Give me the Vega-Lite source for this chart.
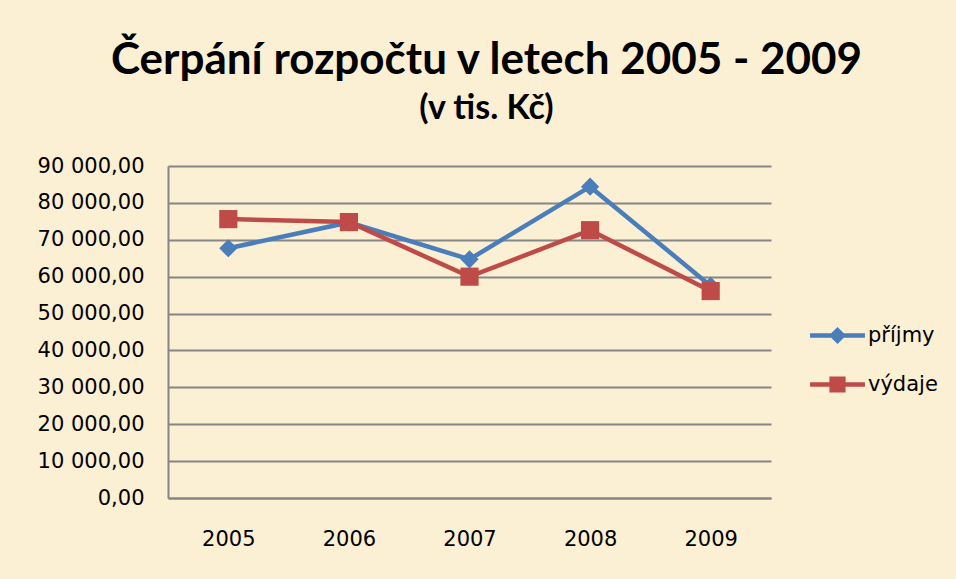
{
  "$schema": "https://vega.github.io/schema/vega-lite/v6.json",
  "width": 603,
  "height": 332,
  "autosize": "none",
  "padding": {"left": 168, "top": 166, "right": 185, "bottom": 81},
  "background": "#FBEFD4",
  "title": {
    "text": "Čerpání rozpočtu v letech 2005 - 2009",
    "subtitle": "(v tis. Kč)",
    "anchor": "middle",
    "frame": "group",
    "dx": 17,
    "offset": 29,
    "font": "Lato",
    "fontSize": 44,
    "fontWeight": "bold",
    "color": "#000000",
    "subtitleFont": "Lato",
    "subtitleFontSize": 34,
    "subtitleFontWeight": "bold",
    "subtitleColor": "#000000",
    "subtitlePadding": 9
  },
  "data": {
    "values": [
      {"rok": "2005", "serie": "příjmy", "hodnota": 67700},
      {"rok": "2006", "serie": "příjmy", "hodnota": 74700},
      {"rok": "2007", "serie": "příjmy", "hodnota": 64700},
      {"rok": "2008", "serie": "příjmy", "hodnota": 84400},
      {"rok": "2009", "serie": "příjmy", "hodnota": 57500},
      {"rok": "2005", "serie": "výdaje", "hodnota": 75600},
      {"rok": "2006", "serie": "výdaje", "hodnota": 74800},
      {"rok": "2007", "serie": "výdaje", "hodnota": 60000},
      {"rok": "2008", "serie": "výdaje", "hodnota": 72600},
      {"rok": "2009", "serie": "výdaje", "hodnota": 56100}
    ]
  },
  "encoding": {
    "x": {
      "field": "rok",
      "type": "ordinal",
      "scale": {"type": "point", "padding": 0.5},
      "axis": {
        "title": null,
        "labelAngle": 0,
        "ticks": false,
        "labelPadding": 30,
        "labelFont": "DejaVu Sans",
        "labelFontSize": 21,
        "labelColor": "#000000",
        "domainColor": "#868686",
        "domainWidth": 2,
        "grid": false
      }
    },
    "y": {
      "field": "hodnota",
      "type": "quantitative",
      "scale": {"domain": [0, 90000], "nice": false, "zero": true},
      "axis": {
        "title": null,
        "values": [0, 10000, 20000, 30000, 40000, 50000, 60000, 70000, 80000, 90000],
        "format": ",.2f",
        "ticks": false,
        "labelPadding": 24,
        "labelFont": "DejaVu Sans",
        "labelFontSize": 21,
        "labelColor": "#000000",
        "domainColor": "#868686",
        "domainWidth": 2,
        "grid": true,
        "gridColor": "#868686",
        "gridWidth": 1.8
      }
    }
  },
  "layer": [
    {
      "mark": {"type": "line", "strokeWidth": 4.5},
      "encoding": {
        "color": {
          "field": "serie",
          "type": "nominal",
          "scale": {"domain": ["příjmy", "výdaje"], "range": ["#4A7EBB", "#BE4B48"]},
          "legend": null
        }
      }
    },
    {
      "mark": {"type": "point", "filled": true, "opacity": 1, "strokeWidth": 0},
      "encoding": {
        "color": {
          "field": "serie",
          "type": "nominal",
          "scale": {"domain": ["příjmy", "výdaje"], "range": ["#4A7EBB", "#BE4B48"]},
          "legend": null
        },
        "shape": {
          "field": "serie",
          "type": "nominal",
          "scale": {"domain": ["příjmy", "výdaje"], "range": ["diamond", "square"]},
          "legend": null
        },
        "size": {"value": 330}
      }
    },
    {
      "transform": [{"filter": "false"}],
      "mark": {"type": "point", "filled": true, "opacity": 1, "strokeWidth": 0},
      "encoding": {
        "color": {
          "field": "serie",
          "type": "nominal",
          "scale": {"domain": ["příjmy", "výdaje"], "range": ["#4A7EBB", "#BE4B48"]},
          "legend": {"title": null}
        },
        "shape": {
          "field": "serie",
          "type": "nominal",
          "scale": {
            "domain": ["příjmy", "výdaje"],
            "range": [
              "M-1.12,-0.09H1.12V0.09H-1.12ZM0,-0.35L0.35,0L0,0.35L-0.35,0Z",
              "M-1.12,-0.09H1.12V0.09H-1.12ZM-0.33,-0.33H0.33V0.33H-0.33Z"
            ]
          },
          "legend": {"title": null}
        }
      }
    }
  ],
  "resolve": {"scale": {"shape": "independent", "color": "independent"}},
  "config": {
    "locale": {
      "number": {"decimal": ",", "thousands": " ", "grouping": [3], "currency": ["", " Kč"]}
    },
    "view": {"stroke": null},
    "legend": {
      "orient": "none",
      "legendX": 645,
      "legendY": 145,
      "padding": 0,
      "symbolSize": 2401,
      "symbolStrokeWidth": 0,
      "labelOffset": 6,
      "rowPadding": 14,
      "labelFont": "DejaVu Sans",
      "labelFontSize": 21,
      "labelColor": "#000000"
    }
  }
}
